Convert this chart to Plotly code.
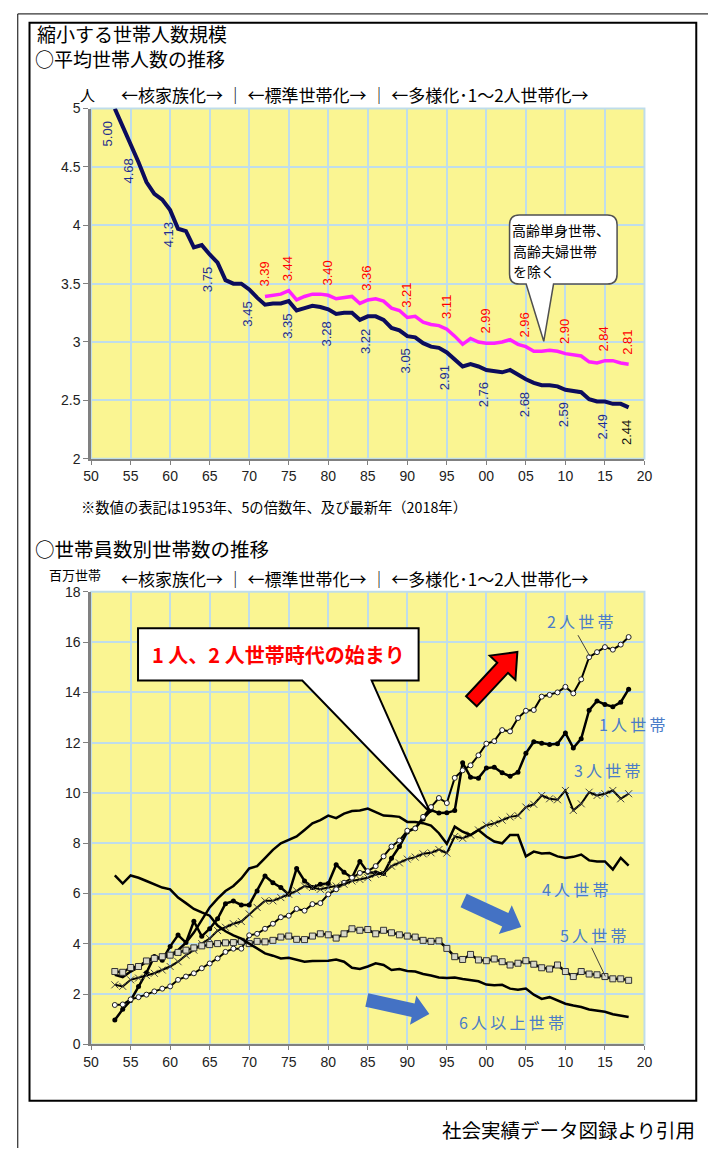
import math
import plotly.graph_objects as go

W, H = 716, 1156

# ---------------- data ----------------
years = list(range(1953, 2019))

# average household size, all households
avg_all = [5.00, 4.85, 4.68, 4.54, 4.37, 4.27, 4.22, 4.13, 3.97, 3.95,
           3.81, 3.83, 3.75, 3.68, 3.53, 3.50, 3.50, 3.45, 3.38, 3.32,
           3.33, 3.33, 3.35, 3.27, 3.29, 3.31, 3.30, 3.28, 3.24, 3.25,
           3.25, 3.19, 3.22, 3.22, 3.19, 3.12, 3.10, 3.05, 3.04, 2.99,
           2.96, 2.95, 2.91, 2.85, 2.79, 2.81, 2.79, 2.76, 2.75, 2.74,
           2.76, 2.72, 2.68, 2.65, 2.63, 2.63, 2.62, 2.59, 2.58, 2.57,
           2.51, 2.49, 2.49, 2.47, 2.47, 2.44]

# average household size excluding elderly single / elderly couple households
excl_years = list(range(1972, 2019))
avg_excl = [3.39, 3.40, 3.41, 3.44, 3.36, 3.39, 3.41, 3.41, 3.40, 3.37,
            3.38, 3.39, 3.33, 3.36, 3.37, 3.35, 3.29, 3.27, 3.21, 3.22,
            3.17, 3.15, 3.14, 3.11, 3.05, 2.98, 3.03, 3.00, 2.99, 2.99,
            3.00, 3.02, 2.98, 2.96, 2.92, 2.92, 2.93, 2.92, 2.90, 2.89,
            2.88, 2.83, 2.82, 2.84, 2.84, 2.82, 2.81]

# households by number of members (millions)
hh_one = [0.97, 1.40, 1.75, 2.30, 2.85, 3.50, 3.35, 3.90, 4.35, 4.05,
          4.90, 4.30, 4.60, 5.00, 5.60, 5.70, 5.55, 5.55, 6.10, 6.70,
          6.43, 6.24, 5.97, 7.00, 6.50, 6.24, 6.37, 6.40, 7.15, 6.85,
          6.63, 7.28, 6.85, 6.83, 6.80, 7.40, 7.87, 8.45, 8.60, 8.97,
          9.32, 9.20, 9.21, 9.30, 11.20, 10.63, 10.59, 10.99, 11.02, 10.80,
          10.67, 10.82, 11.58, 12.04, 11.98, 11.93, 11.96, 12.39, 11.79, 12.16,
          13.29, 13.66, 13.52, 13.43, 13.61, 14.13]
hh_two = [1.57, 1.59, 1.79, 1.88, 1.98, 2.11, 2.22, 2.31, 2.57, 2.70,
          2.83, 3.03, 3.22, 3.42, 3.68, 3.81, 3.81, 4.34, 4.40, 4.60,
          4.80, 5.06, 5.12, 5.39, 5.32, 5.58, 5.62, 5.97, 6.17, 6.43,
          6.63, 6.82, 6.89, 7.09, 7.48, 7.87, 8.11, 8.50, 8.59, 9.05,
          9.44, 9.80, 9.60, 10.60, 10.90, 11.10, 11.50, 11.96, 12.06, 12.50,
          12.45, 12.98, 13.27, 13.30, 13.83, 13.90, 14.00, 14.22, 13.96, 14.52,
          15.40, 15.60, 15.80, 15.70, 15.90, 16.20]
hh_three = [2.37, 2.31, 2.57, 2.64, 2.74, 2.83, 2.96, 3.10, 3.29, 3.55,
            3.75, 4.01, 4.21, 4.53, 4.66, 4.80, 4.89, 5.19, 5.45, 5.71,
            5.71, 5.84, 5.97, 6.11, 6.30, 6.24, 6.17, 6.24, 6.30, 6.37,
            6.50, 6.56, 6.63, 6.76, 6.80, 7.09, 7.22, 7.37, 7.45, 7.58,
            7.62, 7.75, 7.61, 8.27, 8.20, 8.33, 8.53, 8.72, 8.79, 8.92,
            9.05, 9.10, 9.44, 9.55, 9.90, 9.77, 9.73, 10.10, 9.31, 9.57,
            10.03, 9.90, 9.97, 10.10, 9.77, 9.97]
hh_four = [2.77, 2.68, 2.90, 3.07, 3.29, 3.49, 3.42, 3.55, 3.75, 4.05,
           4.45, 4.95, 5.45, 5.80, 6.10, 6.30, 6.60, 7.00, 7.09, 7.41,
           7.74, 8.00, 8.13, 8.27, 8.53, 8.79, 8.92, 9.10, 9.00, 9.18,
           9.28, 9.30, 9.38, 9.25, 9.10, 9.08, 9.05, 8.85, 8.85, 8.80,
           8.70, 8.40, 7.98, 8.66, 8.46, 8.33, 8.53, 8.27, 8.07, 8.00,
           8.33, 8.33, 7.48, 7.67, 7.59, 7.61, 7.48, 7.42, 7.46, 7.55,
           7.32, 7.28, 7.28, 6.96, 7.42, 7.11]
hh_five = [2.90, 2.87, 3.06, 3.10, 3.32, 3.42, 3.49, 3.55, 3.66, 3.75,
           3.84, 3.92, 3.97, 4.01, 4.04, 4.05, 4.10, 4.01, 4.10, 4.08,
           4.14, 4.27, 4.31, 4.18, 4.17, 4.31, 4.40, 4.36, 4.23, 4.40,
           4.60, 4.54, 4.57, 4.40, 4.54, 4.44, 4.36, 4.31, 4.27, 4.14,
           4.10, 4.12, 3.82, 3.49, 3.38, 3.58, 3.36, 3.33, 3.40, 3.29,
           3.16, 3.23, 3.33, 3.19, 3.05, 3.00, 3.16, 2.90, 2.70, 2.90,
           2.80, 2.77, 2.70, 2.61, 2.61, 2.55]
hh_six_plus = [6.72, 6.40, 6.72, 6.63, 6.50, 6.37, 6.24, 6.17, 5.84, 5.62,
               5.39, 5.25, 5.12, 4.73, 4.50, 4.34, 4.21, 4.01, 3.82, 3.62,
               3.53, 3.42, 3.45, 3.36, 3.29, 3.32, 3.32, 3.33, 3.38, 3.29,
               3.05, 3.00, 3.10, 3.23, 3.16, 2.96, 3.00, 2.92, 2.90, 2.80,
               2.74, 2.66, 2.64, 2.66, 2.60, 2.55, 2.51, 2.38, 2.35, 2.37,
               2.22, 2.18, 2.22, 1.98, 1.81, 1.88, 1.75, 1.62, 1.55, 1.49,
               1.39, 1.33, 1.30, 1.20, 1.16, 1.09]

x_ticks = list(range(1950, 2021, 5))
x_ticktext = [f"{y % 100:02d}" for y in x_ticks]
top_ticks = [2, 2.5, 3, 3.5, 4, 4.5, 5]
top_ticktext = ["2", "2.5", "3", "3.5", "4", "4.5", "5"]
bot_ticks = list(range(0, 19, 2))

SEP = "\u00a0｜\u00a0"
phase_text = "←核家族化→" + SEP + "←標準世帯化→" + SEP + "←多様化･1～2人世帯化→"

# ---------------- helpers ----------------
def px(x):
    return x / W


def py(y):
    return 1 - y / H


def path_from(points, close=True):
    s = "M " + " L ".join(f"{px(a):.5f},{py(b):.5f}" for a, b in points)
    return s + (" Z" if close else "")


def arrow_points(tail, tip, sw, hw, hl):
    dx, dy = tip[0] - tail[0], tip[1] - tail[1]
    ln = math.hypot(dx, dy)
    ux, uy = dx / ln, dy / ln
    nx, ny = -uy, ux
    bx, by = tip[0] - ux * hl, tip[1] - uy * hl
    return [
        (tail[0] + nx * sw / 2, tail[1] + ny * sw / 2),
        (bx + nx * sw / 2, by + ny * sw / 2),
        (bx + nx * hw / 2, by + ny * hw / 2),
        tip,
        (bx - nx * hw / 2, by - ny * hw / 2),
        (bx - nx * sw / 2, by - ny * sw / 2),
        (tail[0] - nx * sw / 2, tail[1] - ny * sw / 2),
    ]


JP = "Noto Sans CJK JP"
NUM = "Liberation Sans"
GRID = "#BFDDEA"
PLOT_BG = "#FAF592"
AXIS = "#808080"

fig = go.Figure()

# ---------------- top chart: average household size ----------------
fig.add_trace(go.Scatter(x=years, y=avg_all, mode="lines",
                         line=dict(color="#0C0C5C", width=4),
                         xaxis="x", yaxis="y", hoverinfo="skip"))
fig.add_trace(go.Scatter(x=excl_years, y=avg_excl, mode="lines",
                         line=dict(color="#FF20FF", width=3.5),
                         xaxis="x", yaxis="y", hoverinfo="skip"))

annotations = []


def labelled(yrs):
    first, last = yrs[0], yrs[-1]
    return [i for i, y in enumerate(yrs) if y == first or y == last or y % 5 == 0]


for i in labelled(years):
    annotations.append(dict(
        x=years[i], y=avg_all[i], xref="x", yref="y",
        text=f"{avg_all[i]:.2f}", showarrow=False, textangle=-90,
        yshift=-25, xshift=-7 if i == 0 else -2,
        font=dict(family=NUM, size=13,
                  color="#111111" if years[i] == years[-1] else "#1F2E8C")))
for i in labelled(excl_years):
    annotations.append(dict(
        x=excl_years[i], y=avg_excl[i], xref="x", yref="y",
        text=f"{avg_excl[i]:.2f}", showarrow=False, textangle=-90,
        yshift=22, xshift=-1, font=dict(family=NUM, size=13, color="#FF0000")))

# ---------------- bottom chart: households by size ----------------
series = [
    (hh_one, dict(color="black", width=2.5), dict(symbol="circle", size=5, color="black")),
    (hh_two, dict(color="black", width=2), dict(symbol="circle", size=5, color="white",
                                                line=dict(color="#222", width=1))),
    (hh_three, dict(color="black", width=2), dict(symbol="x-thin", size=7,
                                                  line=dict(color="#444", width=1))),
    (hh_four, dict(color="black", width=2.5), None),
    (hh_five, dict(color="black", width=2.5), dict(symbol="square", size=6, color="#D8D8C8",
                                                   line=dict(color="#333", width=1))),
    (hh_six_plus, dict(color="black", width=2.5), None),
]
for vals, ln, mk in series:
    fig.add_trace(go.Scatter(
        x=years, y=vals, mode="lines+markers" if mk else "lines",
        line=ln, marker=mk, xaxis="x2", yaxis="y2", hoverinfo="skip"))

# ---------------- shapes ----------------
shapes = []
# page frames
shapes.append(dict(type="line", xref="paper", yref="paper", x0=px(10), x1=px(10),
                   y0=py(6), y1=py(1156), line=dict(color="black", width=1)))
shapes.append(dict(type="line", xref="paper", yref="paper", x0=px(10), x1=px(716),
                   y0=py(6), y1=py(6), line=dict(color="black", width=1)))
shapes.append(dict(type="rect", xref="paper", yref="paper", x0=px(22), x1=px(704),
                   y0=py(1108), y1=py(15), line=dict(color="black", width=2)))
# plot borders
for xr, yr in (("x", "y"), ("x2", "y2")):
    shapes.append(dict(type="rect", xref=f"{xr} domain", yref=f"{yr} domain",
                       x0=0, x1=1, y0=0, y1=1, line=dict(color=GRID, width=2),
                       layer="below"))

# speech bubble in top chart
bx0, by0, bx1, by1, r = 513, 210, 623, 280, 10
bubble = (f"M {px(bx0 + r)},{py(by0)} L {px(bx1 - r)},{py(by0)} "
          f"Q {px(bx1)},{py(by0)} {px(bx1)},{py(by0 + r)} "
          f"L {px(bx1)},{py(by1 - r)} Q {px(bx1)},{py(by1)} {px(bx1 - r)},{py(by1)} "
          f"L {px(558)},{py(by1)} L {px(548)},{py(338)} L {px(530)},{py(by1)} "
          f"L {px(bx0 + r)},{py(by1)} Q {px(bx0)},{py(by1)} {px(bx0)},{py(by1 - r)} "
          f"L {px(bx0)},{py(by0 + r)} Q {px(bx0)},{py(by0)} {px(bx0 + r)},{py(by0)} Z")
shapes.append(dict(type="path", xref="paper", yref="paper", path=bubble,
                   fillcolor="white", line=dict(color="#505050", width=1.5)))

# callout in bottom chart
callout = [(133, 629), (420, 629), (420, 682), (372, 682), (432, 816), (301, 682), (133, 682)]
shapes.append(dict(type="path", xref="paper", yref="paper", path=path_from(callout),
                   fillcolor="white", line=dict(color="black", width=2)))

# trend arrows
shapes.append(dict(type="path", xref="paper", yref="paper",
                   path=path_from(arrow_points((474, 703), (521, 653), 15, 36, 22)),
                   fillcolor="#FF0000", line=dict(color="black", width=2)))
shapes.append(dict(type="path", xref="paper", yref="paper",
                   path=path_from(arrow_points((466, 905), (525, 932), 15, 32, 18)),
                   fillcolor="#4472C4", line=dict(width=0)))
shapes.append(dict(type="path", xref="paper", yref="paper",
                   path=path_from(arrow_points((367, 1006), (431, 1020), 14, 30, 17)),
                   fillcolor="#4472C4", line=dict(width=0)))

# leader lines for series labels
shapes.append(dict(type="line", xref="paper", yref="paper", x0=px(583), y0=py(636),
                   x1=px(595), y1=py(657), line=dict(color="#404040", width=1)))
shapes.append(dict(type="line", xref="paper", yref="paper", x0=px(597), y0=py(953),
                   x1=px(611), y1=py(982), line=dict(color="#404040", width=1)))


# ---------------- texts (positioned by their centres) ----------------
def text(x, y, s, size, color="black", family=JP, bold=False):
    annotations.append(dict(
        x=px(x), y=py(y), xref="paper", yref="paper", text=f"<b>{s}</b>" if bold else s,
        showarrow=False, xanchor="center", yanchor="middle",
        font=dict(family=family, size=size, color=color)))


def spaced(s):
    return "\u2009".join(s)


text(127, 26, "縮小する世帯人数規模", 19)
text(125, 51.5, "○平均世帯人数の推移", 19)
text(81, 88, "人", 15)
text(355, 88, phase_text, 17)
text(566, 225, "高齢単身世帯、", 14)
text(559, 246, "高齢夫婦世帯", 14)
text(538, 267, "を除く", 14)
text(272, 505, "※数値の表記は1953年、5の倍数年、及び最新年（2018年）", 14.3)
text(147, 548, "○世帯員数別世帯数の推移", 19.5)
text(69, 574, "百万世帯", 13)
text(355, 579, phase_text, 17)
text(277, 656, "1 人、2 人世帯時代の始まり", 20, color="#FF0000", bold=True)

LBL = "#4A7CC8"
text(585, 622, spaced("2人世帯"), 16, color=LBL)
text(638, 726, spaced("1人世帯"), 16, color=LBL)
text(613, 773, spaced("3人世帯"), 16, color=LBL)
text(580, 893, spaced("4人世帯"), 16, color=LBL)
text(598, 940, spaced("5人世帯"), 16, color=LBL)
text(515, 1028, spaced("6人以上世帯"), 16, color=LBL)
text(573, 1137, "社会実績データ図録より引用", 19.5)

# ---------------- axes ----------------
xdom = [px(85), px(651)]
common_x = dict(range=[1950, 2020], tickvals=x_ticks, ticktext=x_ticktext,
                showgrid=True, gridcolor=GRID, gridwidth=2, zeroline=False,
                showline=True, linecolor=AXIS, linewidth=2, ticks="outside",
                ticklen=4, tickcolor=AXIS, tickfont=dict(family=NUM, size=14, color="#222"),
                fixedrange=True)
common_y = dict(showgrid=True, gridcolor=GRID, gridwidth=2, zeroline=False,
                showline=True, linecolor=AXIS, linewidth=2.5, ticks="outside",
                ticklen=5, tickcolor=AXIS, tickfont=dict(family=NUM, size=14, color="#222"),
                fixedrange=True)

fig.update_layout(
    width=W, height=H, autosize=False,
    margin=dict(l=0, r=0, t=0, b=0),
    paper_bgcolor="white", plot_bgcolor=PLOT_BG,
    showlegend=False,
    xaxis=dict(domain=xdom, anchor="y", **common_x),
    yaxis=dict(domain=[py(457), py(102)], anchor="x", range=[2, 5],
               tickvals=top_ticks, ticktext=top_ticktext, **common_y),
    xaxis2=dict(domain=xdom, anchor="y2", **common_x),
    yaxis2=dict(domain=[py(1051), py(592)], anchor="x2", range=[0, 18],
                tickvals=bot_ticks, **common_y),
    shapes=shapes,
    annotations=annotations,
)

fig.write_html("out.html")
